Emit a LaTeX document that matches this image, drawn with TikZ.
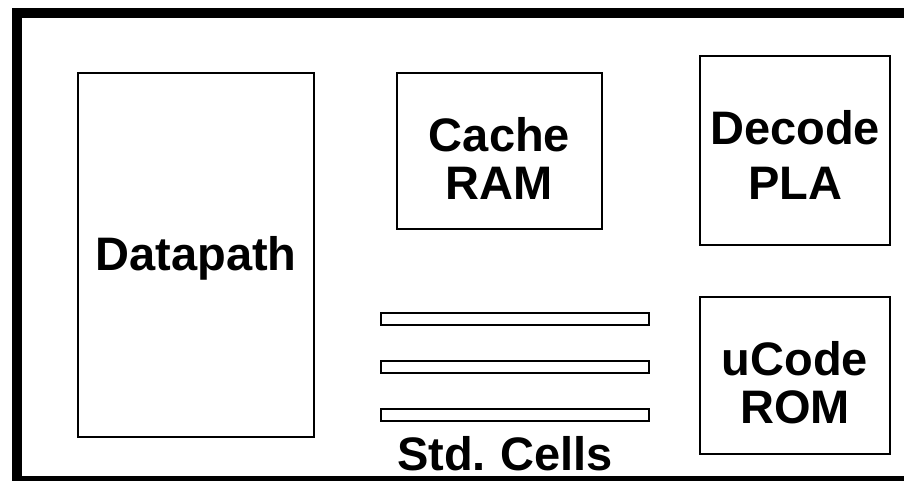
\documentclass[tikz,border=0pt]{standalone}
\usepackage{fontspec}
\setmainfont{Liberation Sans}
\begin{document}
\begin{tikzpicture}[x=1pt,y=-1pt,
  block/.style={draw=black,line width=2pt,fill=white,inner sep=0pt,outer sep=0pt},
  cellrow/.style={draw=black,line width=2pt,fill=white,inner sep=0pt,outer sep=0pt},
  lbl/.style={font=\fontsize{47}{50}\selectfont\bfseries,inner sep=0pt,anchor=base}]
\useasboundingbox (0,0) rectangle (904,480);
% chip outline
\draw[line width=10pt] (17,12.5) rectangle (912,481);
% macro blocks
\node[block,minimum width=236.5pt,minimum height=364pt] (dp) at (195.75,255) {};
\node[block,minimum width=205pt,minimum height=156pt] (cache) at (499.5,151) {};
\node[block,minimum width=190pt,minimum height=189pt] (pla) at (795,150.5) {};
\node[block,minimum width=190pt,minimum height=157pt] (rom) at (795,375.5) {};
% standard cell rows
\node[cellrow,minimum width=268pt,minimum height=12pt] (row1) at (515,319) {};
\node[cellrow,minimum width=268pt,minimum height=12pt] (row2) at (515,367) {};
\node[cellrow,minimum width=268pt,minimum height=12pt] (row3) at (515,415) {};
% labels
\node[lbl] (dpT) at (196,270) {Datapath};
\node[lbl] (cacheT1) at (499.5,151) {Cache};
\node[lbl] (cacheT2) at (499.5,199) {RAM};
\node[lbl] (plaT1) at (795,144) {Decode};
\node[lbl] (plaT2) at (795,199) {PLA};
\node[lbl] (romT1) at (795,375) {uCode};
\node[lbl] (romT2) at (795,423) {ROM};
\node[lbl] (cellsT) at (505,470) {Std.\hspace{-3pt} Cells};
\end{tikzpicture}
\end{document}
